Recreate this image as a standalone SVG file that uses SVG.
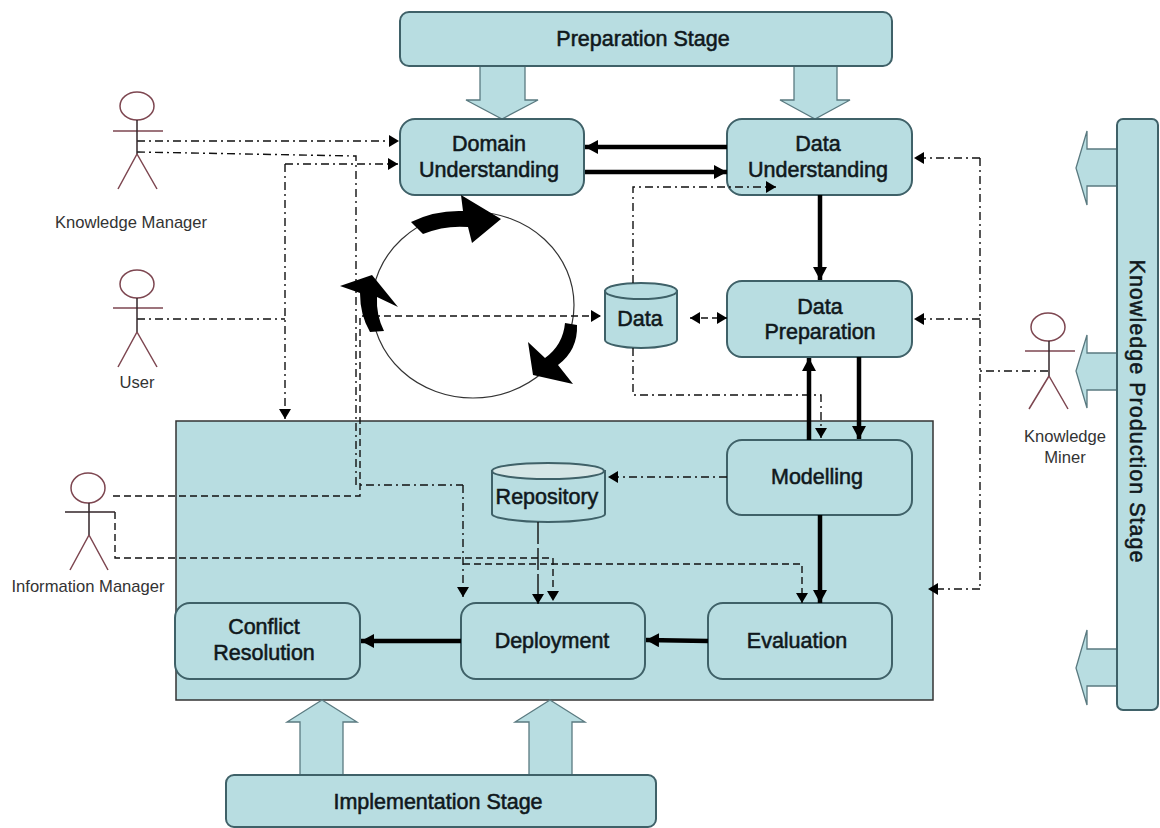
<svg xmlns="http://www.w3.org/2000/svg" width="1160" height="828" viewBox="0 0 1160 828">
<style>
.box{fill:#b8dde1;stroke:#3f6168;stroke-width:2}
.t{font-family:"Liberation Sans",Arial,sans-serif;font-size:21.5px;stroke:#10181c;stroke-width:.55;fill:#10181c;text-anchor:middle}
.a{font-family:"Liberation Sans",Arial,sans-serif;font-size:16.6px;fill:#333;text-anchor:middle}
.blk{fill:#b8dde1;stroke:#5a7a80;stroke-width:1.3}
.ln{fill:none;stroke:#111;stroke-width:1.4}
.dd{stroke-dasharray:8 4 2 4}
.ds{stroke-dasharray:7 4}
.th{fill:none;stroke:#000;stroke-width:4.5}
.h{fill:none;stroke:#7d4650;stroke-width:1.5}
.b{fill:none;stroke:#33262a;stroke-width:1.5}
.big{fill:#b8dde1;stroke:#333;stroke-width:1.5}
</style>
<defs>
<marker id="m" markerUnits="userSpaceOnUse" markerWidth="11" markerHeight="12" refX="10" refY="6" orient="auto-start-reverse"><path d="M0,0L10,6L0,12Z" fill="#000"/></marker>
<marker id="k" markerUnits="userSpaceOnUse" markerWidth="14" markerHeight="14" refX="13" refY="7" orient="auto-start-reverse"><path d="M0,0L13,7L0,14Z" fill="#000"/></marker>
</defs>
<rect width="1160" height="828" fill="#fff"/>
<g id="implementation-container"><rect class="big" x="176" y="421" width="757" height="279"/></g>
<g id="circle-cycle">
<ellipse cx="473" cy="305" rx="101" ry="93" fill="none" stroke="#333" stroke-width="1.2"/>
</g>
<g id="stage-arrows">
<path class="blk" d="M480,66V100H466L502,119L538,100H525V66Z"/>
<path class="blk" d="M794,66V100H780L815,119L850,100H837V66Z"/>
<path class="blk" d="M300,775V722H287L322,700L357,722H343V775Z"/>
<path class="blk" d="M529,775V722H515L550,700L585,722H572V775Z"/>
<path class="blk" d="M1117,149H1087V131L1076,168L1087,205V186H1117Z"/>
<path class="blk" d="M1117,353H1087V335L1076,371L1087,408V390H1117Z"/>
<path class="blk" d="M1117,649H1087V630L1076,668L1087,705V686H1117Z"/>
</g>
<g id="preparation-stage"><rect class="box" x="400" y="12" width="492" height="54" rx="9"/><text class="t" x="643" y="46">Preparation Stage</text></g>
<g id="implementation-stage"><rect class="box" x="226" y="775" width="430" height="52" rx="8"/><text class="t" x="438" y="809">Implementation Stage</text></g>
<g id="knowledge-production-stage"><rect class="box" x="1117" y="119" width="41" height="591" rx="6"/><text class="t" transform="translate(1130,411) rotate(90)" textLength="303">Knowledge Production  Stage</text></g>
<g id="domain-understanding"><rect class="box" x="400" y="119" width="184" height="76" rx="15"/><text class="t" x="489" y="151">Domain</text><text class="t" x="489" y="177">Understanding</text></g>
<g id="data-understanding"><rect class="box" x="727" y="119" width="185" height="76" rx="15"/><text class="t" x="818" y="151">Data</text><text class="t" x="818" y="177">Understanding</text></g>
<g id="data-preparation"><rect class="box" x="727" y="281" width="185" height="76" rx="15"/><text class="t" x="820" y="314">Data</text><text class="t" x="820" y="339">Preparation</text></g>
<g id="modelling"><rect class="box" x="727" y="440" width="185" height="75" rx="15"/><text class="t" x="817" y="484">Modelling</text></g>
<g id="evaluation"><rect class="box" x="708" y="603" width="184" height="76" rx="15"/><text class="t" x="797" y="648">Evaluation</text></g>
<g id="deployment"><rect class="box" x="461" y="603" width="184" height="76" rx="15"/><text class="t" x="552" y="648">Deployment</text></g>
<g id="conflict-resolution"><rect class="box" x="175" y="603" width="185" height="76" rx="15"/><text class="t" x="264" y="634">Conflict</text><text class="t" x="264" y="660">Resolution</text></g>
<g id="data-store">
<path class="box" d="M605,291V340C605,344 621,348 641,348C661,348 677,344 677,340V291Z"/>
<ellipse class="box" cx="641" cy="291" rx="36" ry="8"/>
<text class="t" x="640" y="326">Data</text>
</g>
<g id="repository">
<path class="box" d="M492,471V514C492,518 517,522 548,522C579,522 605,518 605,514V471Z"/>
<ellipse cx="548" cy="471" rx="56" ry="8" fill="#d5e6e6" stroke="#3f6168" stroke-width="2"/>
<text class="t" x="547" y="504">Repository</text>
</g>
<g id="connectors">
<path class="ln dd" marker-end="url(#m)" d="M137,141H399"/>
<path class="ln dd" d="M137,152L356,156V485H463"/>
<path class="ln dd" marker-end="url(#m)" d="M463,485V597"/>
<path class="ln dd" marker-end="url(#m)" d="M285,164H398"/>
<path class="ln dd" marker-end="url(#m)" d="M285,164V419"/>
<path class="ln dd" d="M137,319H285"/>
<path class="ln ds" marker-end="url(#m)" d="M113,496H360V316H601"/>
<path class="ln ds" marker-end="url(#m)" d="M115,512V558H553V601"/>
<path class="ln ds" marker-end="url(#m)" d="M463,564H802V603"/>
<path class="ln" marker-end="url(#m)" stroke-dasharray="22 4" d="M538,522V604"/>
<path class="ln dd" marker-end="url(#m)" d="M727,477H608"/>
<path class="ln dd" marker-end="url(#m)" d="M633,283V187H776"/>
<path class="ln dd" marker-end="url(#m)" d="M633,348V395H821V438"/>
<path class="ln ds" marker-start="url(#m)" marker-end="url(#m)" d="M690,318H727"/>
<path class="ln dd" d="M1048,371H980"/>
<path class="ln dd" marker-end="url(#m)" d="M980,158H914"/>
<path class="ln dd" d="M980,158V589"/>
<path class="ln dd" marker-end="url(#m)" d="M980,319H914"/>
<path class="ln dd" marker-end="url(#m)" d="M980,589H928"/>
<path class="th" marker-end="url(#k)" d="M727,147H585"/>
<path class="th" marker-end="url(#k)" d="M585,172H727"/>
<path class="th" marker-end="url(#k)" d="M820,195V280"/>
<path class="th" marker-end="url(#k)" d="M809,440V358"/>
<path class="th" marker-end="url(#k)" d="M859,357V439"/>
<path class="th" marker-end="url(#k)" d="M820,515V603"/>
<path class="th" marker-end="url(#k)" d="M708,641L646,640"/>
<path class="th" marker-end="url(#k)" d="M461,641H361"/>
</g>
<g id="cycle-arrows" fill="#000">
<path d="M411,222Q435,210 463,211L461,195L501,219L472,243L468,227Q445,225 423,234Z"/>
<path d="M370,332Q360,315 360,293L340,286L372,275L398,307L377,297Q376,315 384,331Z"/>
<path d="M565,323L577,325Q578,350 558,365L573,384L533,375L528,342L545,358Q563,345 565,323Z"/>
</g>
<g id="knowledge-manager">
<ellipse class="h" cx="137" cy="106" rx="17" ry="14"/><path class="h" d="M113,131H163"/><path class="b" d="M137,120V154"/><path class="h" d="M137,154L118,189M137,154L157,189"/>
<text class="a" x="131" y="228">Knowledge Manager</text>
</g>
<g id="user">
<ellipse class="h" cx="137" cy="284" rx="17" ry="14"/><path class="h" d="M113,308H163"/><path class="b" d="M137,298V332"/><path class="h" d="M137,332L118,367M137,332L157,367"/>
<text class="a" x="137" y="388">User</text>
</g>
<g id="information-manager">
<ellipse class="h" cx="88" cy="488" rx="17" ry="15"/><path class="b" d="M65,512H115M89,503V535"/><path class="h" d="M89,535L70,570M89,535L108,570"/>
<text class="a" x="88" y="592">Information Manager</text>
</g>
<g id="knowledge-miner">
<ellipse class="h" cx="1048" cy="327" rx="17" ry="14"/><path class="h" d="M1025,351H1075"/><path class="b" d="M1049,341V376"/><path class="h" d="M1049,376L1029,409M1049,376L1068,409"/>
<text class="a" x="1065" y="442">Knowledge</text><text class="a" x="1065" y="463">Miner</text>
</g>
</svg>
